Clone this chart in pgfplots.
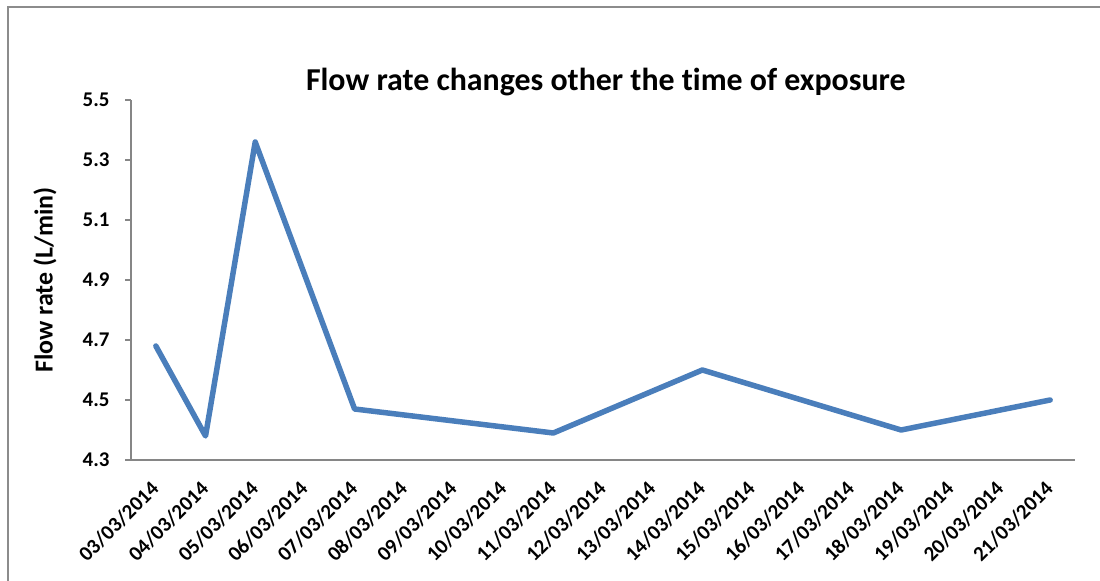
\documentclass[border=0pt]{standalone}
\usepackage{pgfplots}
\pgfplotsset{compat=1.18}
\usepackage{fontspec}
\setmainfont{Carlito}[RawFeature=-liga]

\definecolor{flowblue}{HTML}{4A7EBB}
\definecolor{axisgray}{HTML}{868686}
\definecolor{framegray}{HTML}{8C8C8C}

\begin{document}
\begin{tikzpicture}[x=1bp,y=1bp]
  % page area and chart frame
  \path[use as bounding box] (0,0) rectangle (1100,581);
  \draw[framegray, line width=2.2bp] (8,-5) -- (8,574) -- (1105,574);

  \begin{axis}[
    at={(131bp,121bp)}, anchor=south west,
    scale only axis,
    width=944bp, height=360bp,
    xmin=-0.5, xmax=18.5,
    ymin=4.3, ymax=5.5,
    ytick={4.3,4.5,4.7,4.9,5.1,5.3,5.5},
    yticklabels={4.3,4.5,4.7,4.9,5.1,5.3,5.5},
    xtick={0,...,18},
    xticklabels={03/03/2014,04/03/2014,05/03/2014,06/03/2014,07/03/2014,
      08/03/2014,09/03/2014,10/03/2014,11/03/2014,12/03/2014,13/03/2014,
      14/03/2014,15/03/2014,16/03/2014,17/03/2014,18/03/2014,19/03/2014,
      20/03/2014,21/03/2014},
    axis x line*=bottom,
    axis y line*=left,
    axis line style={axisgray, line width=1.3bp, -},
    y tick style={axisgray, line width=1.3bp},
    x tick style={draw=none},
    tick align=outside,
    major tick length=6bp,
    yticklabel style={font=\bfseries\fontsize{21}{21}\selectfont, xshift=-12bp},
    xticklabel style={font=\bfseries\fontsize{21}{21}\selectfont,
      rotate=45, anchor=north east, inner sep=1bp, xshift=-13bp, yshift=-4bp},
    ylabel={Flow rate (L/min)},
    ylabel style={font=\bfseries\fontsize{26}{26}\selectfont,
      at={(axis description cs:-0.0911,0.5)}, anchor=center},
    title={Flow rate changes other the time of exposure},
    title style={font=\bfseries\fontsize{32}{32}\selectfont, at={(axis description cs:0.503,1)}, yshift=-5bp},
    clip=false,
  ]
    \addplot[flowblue, line width=5.5bp, line join=round, line cap=round] coordinates {
      (0,4.68) (1,4.38) (2,5.36) (4,4.47) (8,4.39) (11,4.60) (15,4.40) (18,4.50)
    };
  \end{axis}
\end{tikzpicture}
\end{document}
